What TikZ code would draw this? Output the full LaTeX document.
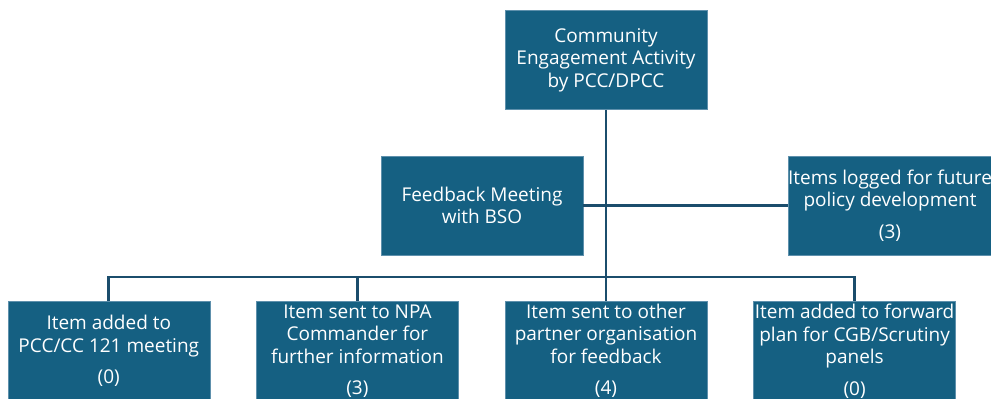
\documentclass[tikz,border=0pt]{standalone}
\usepackage{fontspec}
\setmainfont{Open Sans}
\usepackage{xcolor}
\usetikzlibrary{positioning}
\definecolor{boxblue}{HTML}{156082}
\definecolor{boxedge}{HTML}{5E90AC}
\definecolor{linkblue}{HTML}{1B4D6C}

\begin{document}
\begin{tikzpicture}[x=1pt, y=1pt]

        \def\d{46pt}

        % Box look and connector look
        \tikzset{
            box/.style={rectangle, fill=boxblue, draw=boxedge, line width=.6pt,
                minimum width=202pt, minimum height=99pt, inner sep=0pt,
                text=white, align=center, font=\fontsize{19}{22.5}\selectfont},
            link/.style={draw=linkblue, line width=2.8pt}
        }

        \useasboundingbox (0, 0) rectangle (991, -399);

        % Scope used for the boxes
        \begin{scope}
            \node[box] (CEA) at (606, -60)
            {Community\\Engagement Activity\\by PCC/DPCC};
            \node[box] (FB) at (482, -205.5) {Feedback Meeting\\with BSO};
            \node[box] (IL) at (890, -205.5)
            {Items logged for future\\policy development\\[9pt](3)};

            \node[box] (B3) at (606, -351)
            {Item sent to other\\partner organisation\\for feedback\\[9pt](4)};
            \node[box] (B2) [left=\d of B3]
            {Item sent to NPA\\Commander for\\further information\\[9pt](3)};
            \node[box] (B1) [left=\d of B2]
            {Item added to\\PCC/CC 121 meeting\\[9pt](0)};
            \node[box] (B4) [right=\d of B3]
            {Item added to forward\\plan for CGB/Scrutiny\\panels\\[9pt](0)};

            \coordinate (bus) at (606, -277);
        \end{scope}

        \begin{scope}[link]
            \draw (CEA.south) -- (bus);
            \draw (IL.west) -- (FB.east);
            \draw (B1.north) |- (bus) -| (B4.north);
            \foreach\x in {2, 3}
            \draw (B\x.north) -- (B\x.north |- bus);
        \end{scope}

        \end{tikzpicture}
\end{document}
